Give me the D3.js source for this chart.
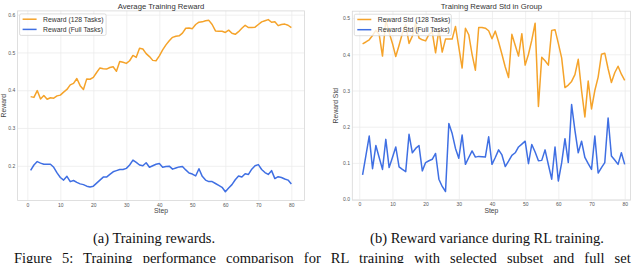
<!DOCTYPE html>
<html><head><meta charset="utf-8">
<script src="https://cdn.jsdelivr.net/npm/d3@7/dist/d3.min.js"></script>
<style>
html,body{margin:0;padding:0;background:#fff;overflow:hidden;}
svg{display:block;}
</style></head>
<body><svg id="c" width="640" height="263"></svg>
<script>
const steps = [1,2,3,4,5,6,7,8,9,10,11,12,13,14,15,16,17,18,19,20,21,22,23,24,25,26,27,28,29,30,31,32,33,34,35,36,37,38,39,40,41,42,43,44,45,46,47,48,49,50,51,52,53,54,55,56,57,58,59,60,61,62,63,64,65,66,67,68,69,70,71,72,73,74,75,76,77,78,79,80];

const reward128 = [0.383,0.381,0.399,0.377,0.386,0.376,0.380,0.379,0.385,0.387,0.395,0.402,0.414,0.418,0.431,0.412,0.402,0.430,0.429,0.434,0.447,0.459,0.457,0.456,0.460,0.462,0.450,0.476,0.474,0.471,0.478,0.492,0.487,0.511,0.509,0.497,0.489,0.479,0.478,0.491,0.507,0.520,0.531,0.540,0.543,0.544,0.551,0.564,0.565,0.563,0.574,0.580,0.581,0.584,0.585,0.574,0.557,0.556,0.556,0.553,0.559,0.551,0.548,0.555,0.564,0.572,0.566,0.566,0.567,0.574,0.581,0.584,0.587,0.580,0.581,0.571,0.574,0.575,0.572,0.566];

const rewardFull = [0.188,0.202,0.211,0.207,0.204,0.204,0.204,0.196,0.181,0.169,0.162,0.172,0.158,0.161,0.156,0.152,0.150,0.146,0.144,0.146,0.154,0.162,0.170,0.170,0.177,0.184,0.187,0.190,0.190,0.193,0.202,0.215,0.209,0.202,0.200,0.208,0.196,0.200,0.204,0.206,0.196,0.198,0.199,0.191,0.194,0.197,0.198,0.189,0.181,0.178,0.173,0.192,0.172,0.162,0.158,0.158,0.153,0.148,0.143,0.131,0.141,0.150,0.163,0.173,0.170,0.179,0.177,0.191,0.200,0.203,0.190,0.182,0.177,0.187,0.166,0.171,0.169,0.165,0.162,0.152];

const std128 = [0.429,0.434,0.440,0.452,0.466,0.455,0.395,0.495,0.460,0.430,0.394,0.425,0.458,0.482,0.430,0.450,0.485,0.445,0.440,0.437,0.455,0.461,0.404,0.468,0.406,0.442,0.442,0.442,0.477,0.420,0.362,0.472,0.454,0.400,0.356,0.474,0.474,0.472,0.465,0.443,0.464,0.434,0.400,0.365,0.336,0.455,0.425,0.395,0.457,0.370,0.400,0.439,0.486,0.256,0.392,0.382,0.370,0.466,0.468,0.430,0.390,0.308,0.315,0.325,0.344,0.386,0.300,0.227,0.326,0.249,0.300,0.337,0.400,0.403,0.360,0.322,0.349,0.367,0.345,0.328];

const stdFull = [0.067,0.120,0.174,0.084,0.148,0.115,0.082,0.165,0.087,0.115,0.144,0.089,0.082,0.076,0.179,0.128,0.140,0.148,0.078,0.101,0.106,0.110,0.126,0.055,0.035,0.021,0.209,0.181,0.140,0.113,0.177,0.096,0.115,0.133,0.116,0.118,0.117,0.116,0.172,0.096,0.115,0.136,0.122,0.090,0.105,0.121,0.128,0.144,0.152,0.160,0.098,0.151,0.130,0.106,0.107,0.136,0.095,0.055,0.144,0.050,0.100,0.167,0.101,0.261,0.190,0.128,0.160,0.115,0.098,0.082,0.174,0.072,0.087,0.101,0.224,0.119,0.108,0.096,0.128,0.096];

const xTicks = [0,10,20,30,40,50,60,70,80];
const yTicksA = [0.2,0.3,0.4,0.5,0.6];
const yTicksB = [0.0,0.1,0.2,0.3,0.4,0.5];

const ORANGE = "#f5a32a", BLUE = "#3f6fe3";
const svg = d3.select("#c");
const SANS = "'Liberation Sans', Arial, sans-serif";

function panel(cfg){
  const g = svg.append("g");
  const x = d3.scaleLinear().domain(cfg.xDomain).range([cfg.left, cfg.right]);
  const y = d3.scaleLinear().domain(cfg.yDomain).range([cfg.bottom, cfg.top]);
  const W = cfg.right-cfg.left, H = cfg.bottom-cfg.top;
  const gx = g.append("g").attr("transform",`translate(0,${cfg.bottom})`)
    .call(d3.axisBottom(x).tickValues(xTicks).tickSize(-H).tickFormat(d3.format("d")).tickPadding(0));
  gx.select(".domain").remove();
  gx.selectAll("line").attr("stroke","#ececec").attr("stroke-width",0.8);
  gx.selectAll("text").attr("y",4.3).attr("dy","0.35em").attr("fill","#555")
    .style("font-family",SANS).style("font-size","5px");
  const gy = g.append("g").attr("transform",`translate(${cfg.left},0)`)
    .call(d3.axisLeft(y).tickValues(cfg.yTicks).tickSize(-W).tickFormat(d3.format(".1f")).tickPadding(0));
  gy.select(".domain").remove();
  gy.selectAll("line").attr("stroke","#ececec").attr("stroke-width",0.8);
  gy.selectAll("text").attr("x",-2.4).attr("dy","0.35em").attr("fill","#555")
    .style("font-family",SANS).style("font-size","5px");
  g.append("rect").attr("x",cfg.left).attr("y",cfg.top).attr("width",W).attr("height",H)
    .attr("fill","none").attr("stroke","#d8d8d8").attr("stroke-width",0.8);
  const line = d3.line().x((d,i)=>x(steps[i])).y(d=>y(d));
  cfg.series.forEach(s=>{
    g.append("path").datum(s.values).attr("d",line).attr("fill","none")
      .attr("stroke",s.color).attr("stroke-width",1.5).attr("stroke-linejoin","round");
  });
  const cx = (cfg.left+cfg.right)/2;
  g.append("text").attr("x",cx).attr("y",6.3).attr("dy","0.35em").attr("text-anchor","middle")
    .attr("fill","#333").style("font-family",SANS).style("font-size","7.7px").text(cfg.title);
  g.append("text").attr("x",cx).attr("y",211).attr("dy","0.35em").attr("text-anchor","middle")
    .attr("fill","#444").style("font-family",SANS).style("font-size","6.8px").text("Step");
  g.append("text").attr("transform",`translate(${cfg.ylabX},${(cfg.top+cfg.bottom)/2}) rotate(-90)`)
    .attr("dy","0.35em").attr("text-anchor","middle")
    .attr("fill","#444").style("font-family",SANS).style("font-size","6.8px").text(cfg.ylabel);
  const lg = g.append("g").attr("transform",`translate(${cfg.left+2},${cfg.top+3})`);
  lg.append("rect").attr("x",0).attr("y",0).attr("width",cfg.legW).attr("height",21.5).attr("rx",1.5)
    .attr("fill","#fff").attr("fill-opacity",0.8).attr("stroke","#d0d0d0").attr("stroke-width",0.7);
  cfg.series.forEach((s,i)=>{
    const yy = 5.3 + i*10.2;
    lg.append("line").attr("x1",3).attr("x2",17).attr("y1",yy).attr("y2",yy)
      .attr("stroke",s.color).attr("stroke-width",1.5);
    lg.append("text").attr("x",23.5).attr("y",yy).attr("dy","0.35em").attr("fill","#333")
      .style("font-family",SANS).style("font-size","6.8px").text(s.name);
  });
}

panel({left:17.6,right:304.4,top:10.9,bottom:200.5,xDomain:[-2.95,83.95],yDomain:[0.108,0.61],
  yTicks:yTicksA,title:"Average Training Reward",ylabel:"Reward",ylabX:3.6,legW:86.5,
  series:[{name:"Reward (128 Tasks)",values:reward128,color:ORANGE},{name:"Reward (Full Tasks)",values:rewardFull,color:BLUE}]});

panel({left:352.3,right:630.5,top:11.2,bottom:200.2,xDomain:[-2.1,81.75],yDomain:[-0.003,0.519],
  yTicks:yTicksB,title:"Training Reward Std in Group",ylabel:"Reward Std",ylabX:336,legW:97,
  series:[{name:"Reward Std (128 Tasks)",values:std128,color:ORANGE},{name:"Reward Std (Full Tasks)",values:stdFull,color:BLUE}]});

const SERIF = "'Liberation Serif','Times New Roman',serif";
svg.append("text").attr("x",154).attr("y",238).attr("dy","0.35em").attr("text-anchor","middle")
  .attr("fill","#111").style("font-family",SERIF).style("font-size","14.5px").text("(a) Training rewards.");
svg.append("text").attr("x",487).attr("y",238).attr("dy","0.35em").attr("text-anchor","middle")
  .attr("fill","#111").style("font-family",SERIF).style("font-size","14.5px").text("(b) Reward variance during RL training.");
svg.append("text").attr("x",14).attr("y",262.5).attr("fill","#111")
  .style("font-family",SERIF).style("font-size","14.5px").style("word-spacing","6.5px")
  .text("Figure 5: Training performance comparison for RL training with selected subset and full set");
</script></body></html>
